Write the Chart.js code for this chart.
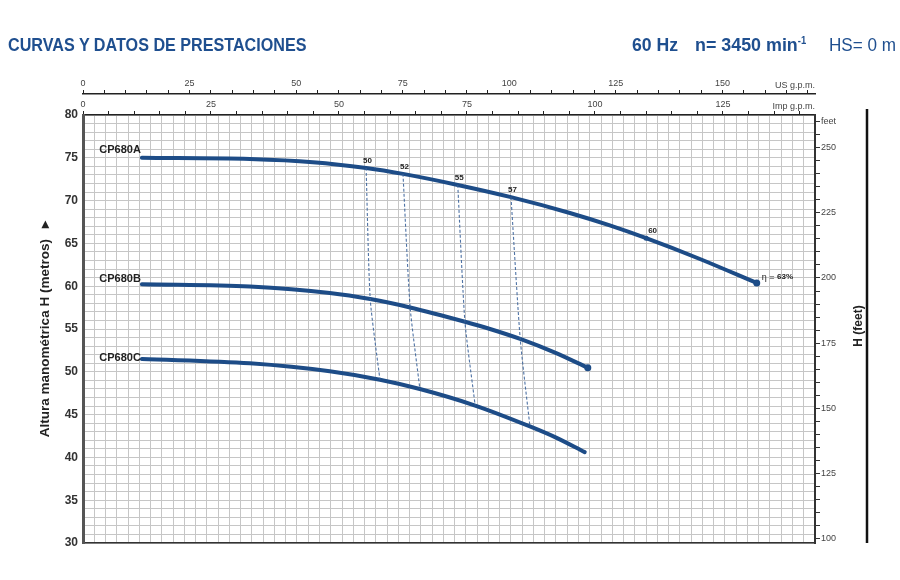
<!DOCTYPE html>
<html>
<head>
<meta charset="utf-8">
<script src="https://cdn.jsdelivr.net/npm/chart.js@4.4.1/dist/chart.umd.min.js"></script>
<style>
  body { margin: 0; background: #fff; }
  #wrap { position: relative; width: 900px; height: 580px; }
  #c { position: absolute; left: 0; top: 0; }
  .hdr { position: absolute; top: 34px; white-space: nowrap; color: #1f4f8f; font-size: 19px;
         font-family: 'Liberation Sans', Arial, sans-serif; transform-origin: 0 50%; }
</style>
</head>
<body>
<div id="wrap">
  <canvas id="c" width="900" height="580"></canvas>
  <div class="hdr" style="left:8px;font-weight:bold;transform:scaleX(0.85)">CURVAS Y DATOS DE PRESTACIONES</div>
  <div class="hdr" style="left:632px;font-weight:bold;transform:scaleX(0.93)">60 Hz</div>
  <div class="hdr" style="left:695px;font-weight:bold;transform:scaleX(0.94)">n= 3450 min<sup style="font-size:10px">-1</sup></div>
  <div class="hdr" style="left:829px;transform:scaleX(0.9)">HS= 0 m</div>
</div>
<script>
// flow read in Imp g.p.m., head in metres
const LPM_PER_IMP = 4.54609;
const LPM_PER_US = 3.78541;
const FT_PER_M = 3.28084;
const Q_MAX_LPM = 650;

const curveNames = ['CP680A', 'CP680B', 'CP680C'];
const qA = [11.5, 32.6, 44.9, 55.3, 62.5, 73.2, 83.6, 95.1, 102.9, 110.0, 120.5, 131.6];
const hA = [75.00, 74.86, 74.49, 73.81, 73.12, 71.83, 70.40, 68.55, 67.10, 65.61, 63.18, 60.37];
const qB = [11.5, 32.6, 48.2, 56.1, 63.9, 74.6, 79.5, 85.4, 92.2, 98.6];
const hB = [60.22, 59.96, 59.21, 58.50, 57.52, 55.85, 55.00, 53.84, 52.24, 50.47];
const qC = [11.5, 32.6, 48.2, 58.0, 65.8, 76.6, 87.3, 92.2, 98.0];
const hC = [51.50, 50.99, 50.06, 49.07, 47.99, 46.06, 43.62, 42.37, 40.62];

// iso-efficiency lines (A, B, C crossing points)
const isoQ = [[55.3, 56.1, 58.0], [62.5, 63.9, 65.8], [73.2, 74.6, 76.6], [83.6, 85.4, 87.3]];
const isoH = [[73.81, 58.50, 49.07], [73.12, 57.52, 47.99], [71.83, 55.85, 46.06], [70.40, 53.84, 43.62]];

// efficiency labels along CP680A
const etaLabels = ['50', '52', '55', '57', '60', 'η = 63%'];
const etaQ = [55.3, 62.5, 73.2, 83.6, 110.0, 131.6];
const etaH = [73.81, 73.12, 71.83, 70.40, 65.61, 60.37];

const CURVE = '#1d4c87';
const GRID = '#c6c6c6';
const FONT = "'Liberation Sans', Arial, sans-serif";
Chart.defaults.font.family = FONT;

const pts = (q, h) => q.map((v, i) => ({ x: v, y: h[i] }));
const is25 = v => Math.abs(v - Math.round(v / 25) * 25) < 1e-6;

function curve(q, h, dots) {
  return {
    data: pts(q, h), xAxisID: 'imp', yAxisID: 'y',
    borderColor: CURVE, backgroundColor: CURVE, borderWidth: 4,
    cubicInterpolationMode: 'monotone', borderCapStyle: 'round',
    pointRadius: ctx => dots[ctx.dataIndex] || 0, pointBorderWidth: 0
  };
}

const datasets = [];
isoQ.forEach((q, i) => datasets.push({
  data: pts(q, isoH[i]), xAxisID: 'imp', yAxisID: 'y',
  borderColor: 'rgba(60,100,155,0.9)', borderWidth: 1.1, borderDash: [3, 2],
  tension: 0.2, pointRadius: 0
}));
datasets.push(curve(qA, hA, { 9: 2.5, 11: 3.5 }));
datasets.push(curve(qB, hB, { 9: 3.5 }));
datasets.push(curve(qC, hC, {}));

const extras = {
  id: 'extras',
  afterDatasetsDraw(chart) {
    const { ctx, chartArea: ca, scales } = chart;
    const sx = scales.imp, sy = scales.y;
    ctx.save();
    // curve names
    const nameDy = [-8, -5, -1];
    const firsts = [[qA[0], hA[0]], [qB[0], hB[0]], [qC[0], hC[0]]];
    ctx.font = 'bold 11px ' + FONT;
    ctx.fillStyle = '#222';
    ctx.textAlign = 'right';
    ctx.textBaseline = 'middle';
    curveNames.forEach((n, i) => {
      ctx.fillText(n, sx.getPixelForValue(firsts[i][0]) - 1, sy.getPixelForValue(firsts[i][1]) + nameDy[i]);
    });
    // efficiency labels
    const dx = [-3, -3, -3, -3, 2, 5], dy = [-7, -7, -7, -7, -7, -6];
    ctx.textAlign = 'left';
    etaLabels.forEach((t, i) => {
      const x = sx.getPixelForValue(etaQ[i]) + dx[i], y = sy.getPixelForValue(etaH[i]) + dy[i];
      if (t.startsWith('η')) {
        ctx.font = '9px ' + FONT;
        ctx.fillText('η =', x, y);
        const w = ctx.measureText('η = ').width;
        ctx.font = 'bold 8px ' + FONT;
        ctx.fillText('63%', x + w, y);
      } else {
        ctx.font = 'bold 8px ' + FONT;
        ctx.fillText(t, x, y);
      }
    });
    // unit names on the flow axes
    ctx.font = '9px ' + FONT;
    ctx.fillStyle = '#444';
    ctx.textAlign = 'right';
    ctx.textBaseline = 'bottom';
    ctx.fillText('US g.p.m.', ca.right, scales.us.bottom - 4);
    ctx.fillText('Imp g.p.m.', ca.right, scales.imp.bottom - 4);
    // right title and frame line
    ctx.fillStyle = '#222';
    ctx.font = 'bold 12px ' + FONT;
    ctx.translate(ca.right + 44, (ca.top + ca.bottom) / 2 - 3);
    ctx.rotate(-Math.PI / 2);
    ctx.textAlign = 'center';
    ctx.textBaseline = 'middle';
    ctx.fillText('H (feet)', 0, 0);
    ctx.restore();
    ctx.save();
    ctx.strokeStyle = '#111';
    ctx.lineWidth = 2.5;
    ctx.beginPath();
    ctx.moveTo(ca.right + 52, ca.top - 6);
    ctx.lineTo(ca.right + 52, ca.bottom);
    ctx.stroke();
    ctx.restore();
  }
};

const flowAxis = (max, weight, height) => ({
  type: 'linear', position: 'top', weight, min: 0, max,
  ticks: {
    stepSize: 5, includeBounds: false, autoSkip: false, maxRotation: 0, padding: 1,
    font: { size: 9 }, color: '#444', callback: v => (is25(v) ? v : '')
  },
  grid: { drawOnChartArea: false, tickLength: 4, color: '#222', lineWidth: 1 },
  border: { color: '#222', width: 1.5 },
  afterFit: s => { s.height = height; }
});

new Chart(document.getElementById('c'), {
  type: 'line',
  data: { datasets },
  options: {
    responsive: false, animation: false,
    layout: { padding: { left: 0, right: 0, top: 60, bottom: 37 } },
    plugins: { legend: { display: false }, tooltip: { enabled: false } },
    scales: {
      x: {
        type: 'linear', position: 'bottom', min: 0, max: Q_MAX_LPM,
        ticks: { display: false, stepSize: 10, autoSkip: false },
        grid: { color: GRID, drawTicks: false, lineWidth: 1 },
        border: { color: '#333', width: 1.5 },
        afterFit: s => { s.height = 0; }
      },
      imp: flowAxis(Q_MAX_LPM / LPM_PER_IMP, 0, 21),
      us: flowAxis(Q_MAX_LPM / LPM_PER_US, 1, 34),
      y: {
        position: 'left', min: 30, max: 80,
        ticks: {
          stepSize: 1, autoSkip: false, padding: 5, color: '#333',
          font: { size: 12, weight: 'bold' }, callback: v => (v % 5 === 0 ? v : '')
        },
        grid: { color: GRID, drawTicks: false },
        border: { color: '#555', width: 3 },
        title: {
          display: true, text: 'Altura manométrica H (metros)   ▸', color: '#222',
          font: { size: 13.5, weight: 'bold' }, padding: { top: 37, bottom: 0 }
        },
        afterFit: s => { s.width = 83; }
      },
      ft: {
        position: 'right', min: 30 * FT_PER_M, max: 80 * FT_PER_M,
        ticks: {
          stepSize: 5, includeBounds: false, autoSkip: false, padding: 1,
          font: { size: 9 }, color: '#444',
          callback: v => (Math.abs(v - 260) < 1e-6 ? 'feet' : (is25(v) ? Math.round(v) : ''))
        },
        grid: { drawOnChartArea: false, tickLength: 5, color: '#333' },
        border: { color: '#333', width: 2 },
        afterFit: s => { s.width = 85; }
      }
    }
  },
  plugins: [extras]
});
</script>
</body>
</html>
